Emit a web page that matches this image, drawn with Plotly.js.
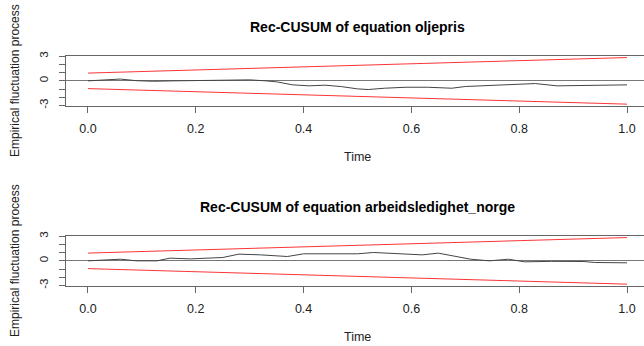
<!DOCTYPE html>
<html>
<head>
<meta charset="utf-8">
<script src="https://cdn.plot.ly/plotly-3.0.1.min.js"></script>
<style>html,body{margin:0;padding:0;background:#fff;}#chart{width:644px;height:346px;}</style>
</head>
<body>
<div id="chart"></div>
<script>
// Panel 1: Rec-CUSUM of equation oljepris
const timeOlje = [0, 0.03, 0.06, 0.09, 0.12, 0.16, 0.20, 0.24, 0.27, 0.30, 0.33, 0.35, 0.38, 0.41, 0.44, 0.47, 0.50, 0.52, 0.55, 0.59, 0.63, 0.675, 0.70, 0.75, 0.80, 0.83, 0.87, 0.92, 0.96, 1.0];
const cusumOlje = [0, 0.12, 0.22, 0.02, -0.05, 0.0, 0.02, 0.05, 0.12, 0.12, 0.0, -0.12, -0.49, -0.61, -0.53, -0.7, -0.98, -1.06, -0.9, -0.78, -0.78, -0.9, -0.69, -0.53, -0.41, -0.33, -0.61, -0.53, -0.5, -0.49];
// Panel 2: Rec-CUSUM of equation arbeidsledighet_norge
const timeArb = [0, 0.06, 0.09, 0.128, 0.152, 0.19, 0.25, 0.28, 0.32, 0.37, 0.40, 0.45, 0.50, 0.53, 0.575, 0.62, 0.65, 0.68, 0.71, 0.745, 0.78, 0.81, 0.86, 0.92, 0.94, 1.0];
const cusumArb = [0, 0.2, 0.0, 0.0, 0.33, 0.24, 0.41, 0.82, 0.73, 0.53, 0.86, 0.82, 0.86, 1.02, 0.86, 0.73, 0.94, 0.53, 0.2, 0.0, 0.2, -0.12, -0.06, -0.08, -0.2, -0.24];
// Boundaries (same for both panels)
const boundTime = [0, 1];
const boundUpper = [0.948, 2.844];
const boundLower = [-0.948, -2.844];
const titles = ["Rec-CUSUM of equation oljepris", "Rec-CUSUM of equation arbeidsledighet_norge"];
const xTickVals = [0, 0.2, 0.4, 0.6, 0.8, 1.0];
const xTickText = ["0.0", "0.2", "0.4", "0.6", "0.8", "1.0"];
const yTickVals = [-3, -2, -1, 0, 1, 2, 3];
const yTickText = ["-3", "", "", "0", "", "", "3"];

const H = 346, W = 644;
const font = "Liberation Sans, Arial, sans-serif";
const narrow = "Liberation Sans Narrow, Arial Narrow, Liberation Sans, sans-serif";
const lineCol = "#444";
const redCol = "#ff3535";

function traces(t, v, xa, ya) {
  return [
    {x: boundTime, y: boundUpper, xaxis: xa, yaxis: ya, mode: "lines", line: {color: redCol, width: 1}, hoverinfo: "skip"},
    {x: boundTime, y: boundLower, xaxis: xa, yaxis: ya, mode: "lines", line: {color: redCol, width: 1}, hoverinfo: "skip"},
    {x: t, y: v, xaxis: xa, yaxis: ya, mode: "lines", line: {color: lineCol, width: 1}}
  ];
}

const data = [].concat(traces(timeOlje, cusumOlje, "x", "y"), traces(timeArb, cusumArb, "x2", "y2"));

const xLeft = 66 / W;
function xax(anchor) {
  return {
    domain: [xLeft, 1], anchor: anchor, range: [-0.0408, 1.0315],
    showgrid: false, zeroline: false, showline: true, mirror: true, linecolor: "#666", linewidth: 1,
    ticks: "outside", ticklen: 6, tickcolor: "#666", tickvals: xTickVals, ticktext: xTickText,
    tickfont: {family: narrow, size: 12.5, color: "#222"}, ticklabelstandoff: 5
  };
}
function yax(anchor, top, bottom) {
  return {
    domain: [1 - bottom / H, 1 - top / H], anchor: anchor, range: [-3.07, 3.07],
    showgrid: false, zeroline: true, zerolinecolor: "#777", zerolinewidth: 1,
    showline: true, mirror: false, linecolor: "#666", linewidth: 1,
    ticks: "outside", ticklen: 6, tickcolor: "#666", tickvals: yTickVals, ticktext: yTickText,
    tickangle: -90, tickfont: {family: font, size: 11.5, color: "#222"}, ticklabelstandoff: 6
  };
}

function ann(text, x, y, opts) {
  return Object.assign({text: text, x: x, y: y, xref: "paper", yref: "paper", showarrow: false,
    xanchor: "center", yanchor: "middle", font: {family: narrow, size: 12.5, color: "#222"}}, opts || {});
}

const midX = (66 + 649) / 2 / W;
const yTitleFont = {family: font, size: 12, color: "#222"};
const layout = {
  width: W, height: H, margin: {l: 0, r: 0, t: 0, b: 0, pad: 0},
  paper_bgcolor: "#fff", plot_bgcolor: "#fff", showlegend: false,
  xaxis: xax("y"), yaxis: yax("x", 55.7, 106),
  xaxis2: xax("y2"), yaxis2: yax("x2", 235.7, 286),
  annotations: [
    ann("<b>" + titles[0] + "</b>", midX, 1 - 27 / H, {font: {family: font, size: 14, color: "#000"}}),
    ann("<b>" + titles[1] + "</b>", midX, 1 - 207 / H, {font: {family: font, size: 14, color: "#000"}}),
    ann("Time", midX, 1 - 157 / H),
    ann("Time", midX, 1 - 337 / H),
    ann("Empirical fluctuation process", 15 / W, 1 - 81 / H, {textangle: -90, font: yTitleFont}),
    ann("Empirical fluctuation process", 15 / W, 1 - 261 / H, {textangle: -90, font: yTitleFont})
  ]
};

Plotly.newPlot("chart", data, layout, {staticPlot: true, displayModeBar: false});
</script>
</body>
</html>
